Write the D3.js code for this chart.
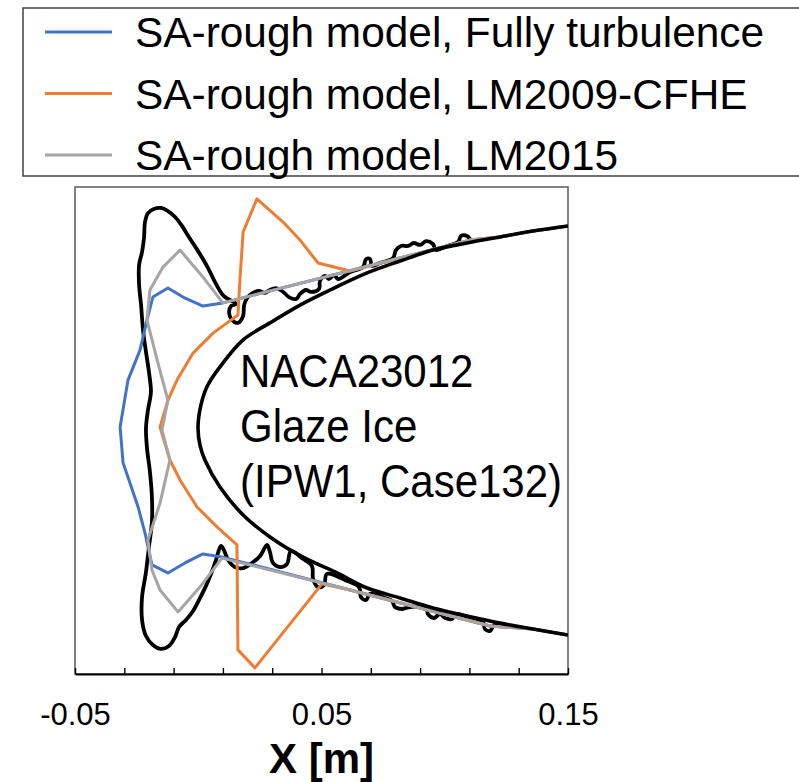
<!DOCTYPE html>
<html>
<head>
<meta charset="utf-8">
<script src="https://cdn.jsdelivr.net/npm/d3@7"></script>
<style>
  html, body { margin: 0; padding: 0; background: #fff; }
  svg { display: block; font-family: "Liberation Sans", Arial, sans-serif; }
</style>
</head>
<body>
<svg id="chart" width="799" height="782"></svg>
<script>
// Coordinates are in millimetres, [x, y]; converted to metres for the axes.

// Clean NACA23012 contour near the leading edge
const cleanAirfoil = [
  [150.0, 84.0], [135.8, 81.9], [122.4, 79.5], [109.0, 77.0], [95.2, 74.1],
  [81.9, 69.6], [68.5, 64.7], [53.5, 57.7], [41.3, 51.5], [29.1, 44.2],
  [18.2, 37.2], [8.8, 26.1], [3.5, 17.9], [1.1, 10.5], [-0.1, 1.4],
  [0.7, -6.0], [2.7, -12.1], [8.8, -23.2], [18.2, -34.7], [29.1, -43.7],
  [42.5, -52.0], [55.5, -58.1], [68.5, -64.7], [81.9, -68.8], [95.2, -72.9],
  [109.0, -76.2], [122.4, -79.1], [135.8, -81.5], [150.0, -84.0]
];

// Experimental glaze ice outline
const iceShape = [
  [111.1, 77.4], [109.0, 79.9], [106.6, 79.9], [105.4, 77.4], [100.9, 75.8],
  [96.5, 74.1], [95.2, 76.6], [92.4, 77.8], [90.0, 76.2], [87.5, 77.0],
  [85.1, 75.8], [82.3, 75.8], [80.2, 74.1], [79.0, 70.8], [73.7, 68.8],
  [70.5, 67.6], [69.7, 70.4], [68.1, 70.4], [66.8, 67.1], [61.6, 65.1],
  [56.7, 62.2], [55.1, 63.9], [53.0, 62.2], [51.4, 63.5], [49.4, 61.4],
  [49.0, 58.1], [45.7, 56.9], [43.7, 57.7], [41.3, 56.1], [39.7, 54.0],
  [36.8, 54.8], [34.0, 57.3], [31.5, 58.5], [29.1, 57.7], [27.1, 56.5],
  [24.6, 57.3], [22.2, 56.5], [19.8, 54.4], [18.6, 51.5], [18.2, 47.0],
  [16.1, 44.2], [13.7, 45.4], [12.5, 48.3], [13.3, 51.1], [15.3, 52.0],
  [10.4, 55.2], [7.2, 60.2], [4.4, 65.9], [1.9, 70.4], [-0.9, 75.0],
  [-3.8, 79.5], [-6.6, 84.0], [-9.4, 87.7], [-12.3, 90.1], [-15.1, 91.4],
  [-18.0, 91.0], [-20.4, 89.3], [-21.6, 85.6], [-22.0, 79.1], [-22.8, 73.3],
  [-24.0, 68.0], [-24.0, 59.8], [-23.2, 51.5], [-22.4, 41.3], [-21.2, 32.2],
  [-20.0, 24.0], [-19.2, 15.8], [-20.4, 8.4], [-21.2, 1.0], [-20.8, -7.2],
  [-19.6, -17.0], [-18.8, -27.3], [-18.8, -37.6], [-20.0, -47.8], [-21.2, -58.1],
  [-22.8, -68.4], [-22.8, -77.8], [-21.2, -84.4], [-18.4, -88.1], [-15.1, -89.7],
  [-11.9, -88.5], [-9.4, -84.8], [-7.8, -80.7], [-5.0, -77.8], [-2.1, -74.1],
  [0.7, -68.8], [3.1, -63.9], [5.2, -58.9], [7.2, -53.2], [9.2, -47.4],
  [10.4, -49.1], [12.1, -53.2], [14.9, -56.1], [18.2, -56.5], [21.8, -54.4],
  [25.1, -51.5], [27.9, -47.0], [29.1, -49.9], [30.3, -54.4], [33.2, -56.1],
  [36.0, -54.8], [37.6, -49.5], [42.1, -52.4], [46.1, -55.6], [46.6, -61.0],
  [48.6, -64.3], [51.0, -63.5], [52.2, -58.9], [59.5, -61.4], [65.2, -64.3],
  [66.0, -68.4], [68.1, -69.6], [69.7, -67.1], [75.8, -68.8], [78.6, -70.0],
  [79.8, -72.5], [82.7, -73.3], [85.9, -72.5], [92.4, -72.5], [93.2, -75.4],
  [95.6, -77.0], [98.1, -75.4], [100.1, -77.0], [102.9, -77.4], [104.6, -75.4],
  [111.1, -77.4], [115.5, -78.6], [116.3, -81.5], [118.4, -82.3], [120.0, -79.9],
  [123.6, -79.5]
];

// SA-rough model, Fully turbulence
const fullyTurbulence = [
  [150.0, 84.0], [135.8, 81.9], [122.4, 79.5], [110.2, 78.2], [59.5, 65.1],
  [10.0, 52.4], [1.9, 51.1], [-6.2, 54.8], [-12.3, 58.5], [-18.4, 54.8],
  [-20.8, 45.4], [-23.6, 33.1], [-28.5, 20.7], [-31.7, 1.4], [-30.5, -13.3],
  [-27.7, -21.6], [-24.4, -31.4], [-21.6, -42.1], [-18.8, -55.2], [-12.3, -58.5],
  [-5.4, -54.4], [1.9, -50.7], [10.0, -52.0], [61.6, -65.5], [118.4, -80.3],
  [135.8, -81.5], [150.0, -84.0]
];

// SA-rough model, LM2009-CFHE
const lm2009 = [
  [150.0, 84.0], [135.8, 81.9], [122.4, 79.5], [110.2, 78.2], [61.6, 65.5],
  [48.6, 68.8], [41.3, 78.2], [34.4, 85.6], [23.8, 95.1], [18.2, 81.5],
  [16.9, 61.8], [16.1, 47.4], [11.7, 44.2], [6.0, 40.0], [-2.1, 31.8],
  [-8.6, 20.7], [-12.3, 12.5], [-15.5, 1.4], [-11.5, -12.1], [-7.4, -20.3],
  [-0.5, -31.4], [7.6, -39.6], [15.7, -47.0], [16.1, -90.1], [23.0, -97.5],
  [50.2, -63.0], [61.6, -65.5], [118.4, -80.3], [135.8, -81.5], [150.0, -84.0]
];

// SA-rough model, LM2015
const lm2015 = [
  [150.0, 84.0], [135.8, 81.9], [122.4, 79.5], [110.2, 78.2], [59.5, 65.1],
  [10.0, 52.4], [1.9, 63.0], [-7.4, 74.1], [-14.3, 67.1], [-19.6, 57.7],
  [-20.8, 45.4], [-16.7, 29.0], [-12.3, 12.5], [-14.7, 0.2], [-11.5, -12.1],
  [-15.5, -29.8], [-20.4, -45.0], [-18.8, -57.3], [-15.5, -65.5], [-8.2, -74.5],
  [0.7, -64.3], [9.6, -52.4], [61.6, -65.5], [118.4, -80.3], [135.8, -81.5],
  [150.0, -84.0]
];

const seriesNames = [
  "SA-rough model, Fully turbulence",
  "SA-rough model, LM2009-CFHE",
  "SA-rough model, LM2015"
];
const seriesColors = ["#4472C4", "#ED7D31", "#A5A5A5"];
const seriesData = [fullyTurbulence, lm2009, lm2015];

const xTicks = [-0.05, -0.03, -0.01, 0.01, 0.03, 0.05, 0.07, 0.09, 0.11, 0.13, 0.15];
const xLabelTicks = ["-0.05", "0.05", "0.15"];
const annotationLines = ["NACA23012", "Glaze Ice", "(IPW1, Case132)"];

const svg = d3.select("#chart");
const plotLeft = 75, plotRight = 568, plotTop = 187, plotBottom = 674;

const x = d3.scaleLinear().domain([-0.05, 0.15]).range([plotLeft, plotRight]);
const y = d3.scaleLinear().domain([-0.1, 0.1]).range([plotBottom, plotTop]);

const line = d3.line().x(d => x(d[0] / 1000)).y(d => y(d[1] / 1000));
const smooth = d3.line().x(d => x(d[0] / 1000)).y(d => y(d[1] / 1000)).curve(d3.curveCatmullRom.alpha(0.5));

svg.append("defs").append("clipPath").attr("id", "plotClip")
  .append("rect").attr("x", plotLeft).attr("y", plotTop)
  .attr("width", plotRight - plotLeft).attr("height", plotBottom - plotTop);

// Plot frame
svg.append("rect")
  .attr("x", plotLeft).attr("y", plotTop)
  .attr("width", plotRight - plotLeft).attr("height", plotBottom - plotTop)
  .attr("fill", "none").attr("stroke", "#595959").attr("stroke-width", 1.5);

const plot = svg.append("g").attr("clip-path", "url(#plotClip)");

// Ice outline
plot.append("path").datum(iceShape)
  .attr("d", smooth).attr("fill", "none")
  .attr("stroke", "#000").attr("stroke-width", 3.8).attr("stroke-linejoin", "round");

// Model predictions
seriesData.forEach((s, i) => {
  plot.append("path").datum(s)
    .attr("d", line).attr("fill", "none")
    .attr("stroke", seriesColors[i]).attr("stroke-width", 3)
    .attr("stroke-linejoin", "round");
});

// Clean airfoil
plot.append("path").datum(cleanAirfoil)
  .attr("d", smooth).attr("fill", "none")
  .attr("stroke", "#000").attr("stroke-width", 3.6);

// X axis: minor ticks every 0.02 m, labels on three of them
const axis = d3.axisBottom(x)
  .tickValues(xTicks)
  .tickSizeInner(-6).tickSizeOuter(0)
  .tickPadding(29)
  .tickFormat(d => {
    const s = d.toFixed(2);
    return xLabelTicks.includes(s) ? s : "";
  });

const gx = svg.append("g").attr("transform", `translate(0,${plotBottom})`).call(axis);
gx.select(".domain").attr("stroke", "#000").attr("stroke-width", 2.2);
gx.selectAll(".tick line").attr("stroke", "#000").attr("stroke-width", 1.4);
gx.selectAll(".tick text")
  .attr("font-family", "Liberation Sans, Arial, sans-serif")
  .attr("font-size", 31).attr("fill", "#000");

svg.append("text")
  .attr("x", x(0.05)).attr("y", 773)
  .attr("text-anchor", "middle")
  .attr("font-size", 42).attr("font-weight", "bold")
  .text("X [m]");

// Annotation
svg.append("g")
  .attr("transform", "translate(240,387) scale(1,1.08)")
  .append("text")
  .attr("font-size", 42)
  .selectAll("tspan").data(annotationLines).join("tspan")
  .attr("x", 0).attr("dy", (d, i) => i === 0 ? 0 : 51)
  .text(d => d);

// Legend
const legend = svg.append("g");
legend.append("rect")
  .attr("x", 23).attr("y", 8).attr("width", 800).attr("height", 168)
  .attr("fill", "#fff").attr("stroke", "#404040").attr("stroke-width", 1.5);

const rowY = [32, 93.5, 155];
seriesNames.forEach((name, i) => {
  legend.append("line")
    .attr("x1", 45).attr("x2", 112).attr("y1", rowY[i]).attr("y2", rowY[i])
    .attr("stroke", seriesColors[i]).attr("stroke-width", 3);
  legend.append("text")
    .attr("x", 135).attr("y", rowY[i] + 15)
    .attr("font-size", 42.4).attr("fill", "#000")
    .text(name);
});
</script>
</body>
</html>
